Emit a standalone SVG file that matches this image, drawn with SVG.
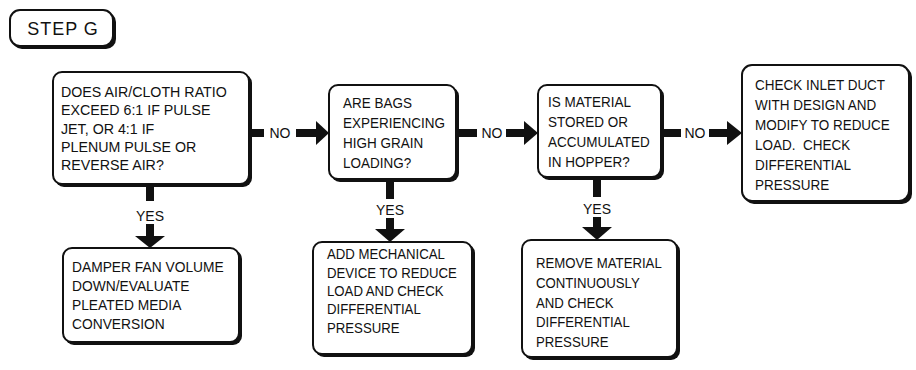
<svg xmlns="http://www.w3.org/2000/svg" width="916" height="370" viewBox="0 0 916 370">
<style>
  .sh { fill: #111; }
  .bx { fill: #fff; stroke: #111; stroke-width: 2; }
  .t { font-family: "Liberation Sans", Arial, sans-serif; font-size: 15px; fill: #111; }
  .lbl { font-family: "Liberation Sans", Arial, sans-serif; font-size: 14px; fill: #111; text-anchor: middle; }
  .bar { stroke: #111; stroke-width: 8; fill: none; }
  .head { fill: #111; }
</style>
<rect width="916" height="370" fill="#fff"/>

<g id="step">
  <rect class="sh" x="12" y="12" width="104" height="37" rx="10"/>
  <rect class="bx" x="10" y="10" width="103" height="36" rx="10"/>
  <text x="63" y="35" text-anchor="middle" style="font-family:'Liberation Sans',Arial,sans-serif;font-size:18px;fill:#111;letter-spacing:1px">STEP G</text>
</g>

<g id="q1">
  <rect class="sh" x="55" y="74" width="197" height="113" rx="9"/>
  <rect class="bx" x="53" y="72" width="196" height="112" rx="9"/>
  <g transform="translate(61,0) scale(0.95,1)">
    <text class="t" x="0" y="97">DOES AIR/CLOTH RATIO</text>
    <text class="t" x="0" y="115.5">EXCEED 6:1 IF PULSE</text>
    <text class="t" x="0" y="134">JET, OR 4:1 IF</text>
    <text class="t" x="0" y="152">PLENUM PULSE OR</text>
    <text class="t" x="0" y="170.5">REVERSE AIR?</text>
  </g>
</g>

<g id="q2">
  <rect class="sh" x="331" y="87" width="128" height="95" rx="9"/>
  <rect class="bx" x="329" y="85" width="127" height="94" rx="9"/>
  <g transform="translate(343,0) scale(0.9,1)">
    <text class="t" x="0" y="108">ARE BAGS</text>
    <text class="t" x="0" y="128">EXPERIENCING</text>
    <text class="t" x="0" y="148">HIGH GRAIN</text>
    <text class="t" x="0" y="168">LOADING?</text>
  </g>
</g>

<g id="q3">
  <rect class="sh" x="540" y="87" width="124" height="93" rx="9"/>
  <rect class="bx" x="538" y="85" width="123" height="92" rx="9"/>
  <g transform="translate(548,0) scale(0.9,1)">
    <text class="t" x="0" y="107">IS MATERIAL</text>
    <text class="t" x="0" y="127">STORED OR</text>
    <text class="t" x="0" y="147">ACCUMULATED</text>
    <text class="t" x="0" y="167">IN HOPPER?</text>
  </g>
</g>

<g id="a4">
  <rect class="sh" x="744" y="67" width="168" height="137" rx="10"/>
  <rect class="bx" x="742" y="65" width="167" height="136" rx="10"/>
  <g transform="translate(755,0) scale(0.9,1)">
    <text class="t" x="0" y="90">CHECK INLET DUCT</text>
    <text class="t" x="0" y="110">WITH DESIGN AND</text>
    <text class="t" x="0" y="130">MODIFY TO REDUCE</text>
    <text class="t" x="0" y="150" xml:space="preserve">LOAD.  CHECK</text>
    <text class="t" x="0" y="170">DIFFERENTIAL</text>
    <text class="t" x="0" y="190">PRESSURE</text>
  </g>
</g>

<g id="a1">
  <rect class="sh" x="65" y="250" width="177" height="95" rx="9"/>
  <rect class="bx" x="63" y="248" width="176" height="94" rx="9"/>
  <g transform="translate(72,0) scale(0.92,1)">
    <text class="t" x="0" y="272">DAMPER FAN VOLUME</text>
    <text class="t" x="0" y="291">DOWN/EVALUATE</text>
    <text class="t" x="0" y="310">PLEATED MEDIA</text>
    <text class="t" x="0" y="329">CONVERSION</text>
  </g>
</g>

<g id="a2">
  <rect class="sh" x="315" y="244" width="160" height="113" rx="9"/>
  <rect class="bx" x="313" y="242" width="159" height="112" rx="9"/>
  <g transform="translate(327,0) scale(0.88,1)">
    <text class="t" x="0" y="259">ADD MECHANICAL</text>
    <text class="t" x="0" y="278">DEVICE TO REDUCE</text>
    <text class="t" x="0" y="296">LOAD AND CHECK</text>
    <text class="t" x="0" y="314">DIFFERENTIAL</text>
    <text class="t" x="0" y="333">PRESSURE</text>
  </g>
</g>

<g id="a3">
  <rect class="sh" x="524" y="242" width="156" height="118" rx="9"/>
  <rect class="bx" x="522" y="240" width="155" height="117" rx="9"/>
  <g transform="translate(536,0) scale(0.88,1)">
    <text class="t" x="0" y="268">REMOVE MATERIAL</text>
    <text class="t" x="0" y="288">CONTINUOUSLY</text>
    <text class="t" x="0" y="308">AND CHECK</text>
    <text class="t" x="0" y="327">DIFFERENTIAL</text>
    <text class="t" x="0" y="347">PRESSURE</text>
  </g>
</g>

<g id="connectors">
  <!-- q1 -> q2 NO -->
  <line class="bar" x1="251" y1="133" x2="264" y2="133"/>
  <text class="lbl" x="280" y="138">NO</text>
  <line class="bar" x1="296" y1="133" x2="318" y2="133"/>
  <polygon class="head" points="316,121 329,133 316,145"/>
  <!-- q2 -> q3 NO -->
  <line class="bar" x1="457" y1="133" x2="477" y2="133"/>
  <text class="lbl" x="492" y="138">NO</text>
  <line class="bar" x1="506" y1="133" x2="526" y2="133"/>
  <polygon class="head" points="524,121 538,133 524,145"/>
  <!-- q3 -> a4 NO -->
  <line class="bar" x1="662" y1="133" x2="681" y2="133"/>
  <text class="lbl" x="695" y="138">NO</text>
  <line class="bar" x1="709" y1="133" x2="729" y2="133"/>
  <polygon class="head" points="727,121 742,133 727,145"/>
  <!-- q1 -> a1 YES -->
  <line class="bar" x1="150" y1="186" x2="150" y2="201"/>
  <text class="lbl" x="150" y="221">YES</text>
  <line class="bar" x1="150" y1="224" x2="150" y2="238"/>
  <polygon class="head" points="135,236 165,236 150,248"/>
  <!-- q2 -> a2 YES -->
  <line class="bar" x1="390" y1="180" x2="390" y2="199"/>
  <text class="lbl" x="390" y="215">YES</text>
  <line class="bar" x1="390" y1="218" x2="390" y2="231"/>
  <polygon class="head" points="375,229 405,229 390,242"/>
  <!-- q3 -> a3 YES -->
  <line class="bar" x1="597" y1="178" x2="597" y2="197"/>
  <text class="lbl" x="597" y="214">YES</text>
  <line class="bar" x1="597" y1="217" x2="597" y2="228"/>
  <polygon class="head" points="582,227 612,227 597,240"/>
</g>
</svg>
